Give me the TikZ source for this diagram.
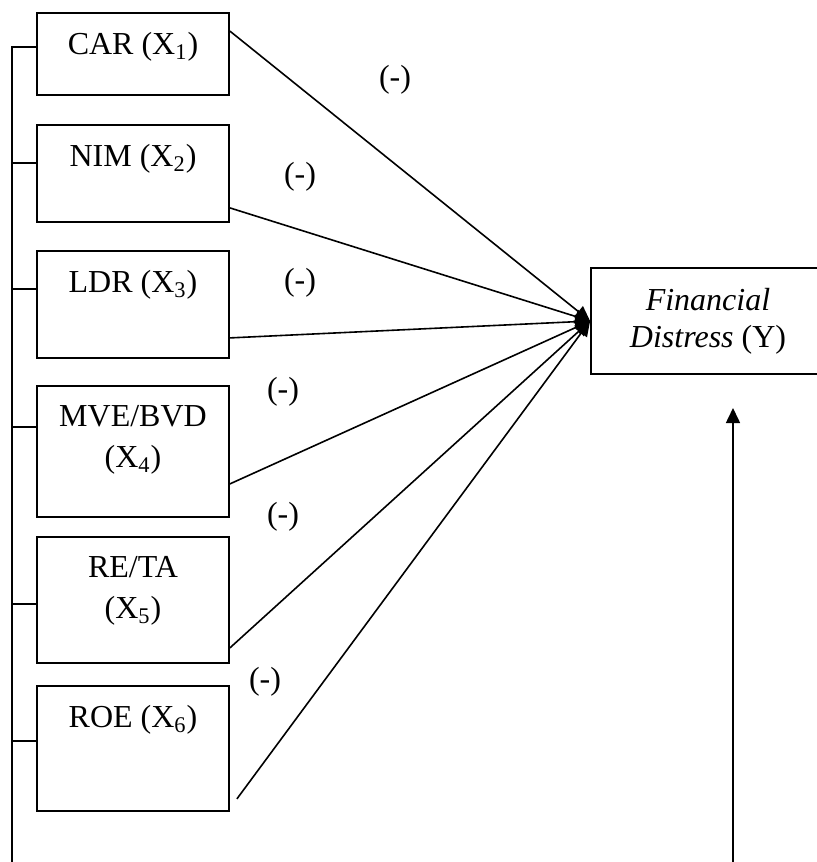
\documentclass[tikz,border=0pt]{standalone}
\usepackage{fontspec}
\setmainfont{Liberation Serif}
\usetikzlibrary{positioning,arrows.meta,calc}

\begin{document}
\begin{tikzpicture}[x=0.5pt, y=-0.5pt, font=\fontsize{16}{20.5}\selectfont,
  >={Triangle[length=7.5pt,width=7pt]},
  varbox/.style={draw, line width=0.9pt, minimum width=96pt, inner sep=0pt},
  boxtext/.style={anchor=north, inner sep=0pt, align=center, yshift=-10pt},
  conn/.style={line width=0.8pt}]
  \useasboundingbox (0,0) rectangle (817,862);
  \clip (0,0) rectangle (817,862);
  % independent variables
  \node[varbox, minimum height=41pt, label={[boxtext]north:CAR (X\textsubscript{1})}] (car) at (133,54) {};
  \node[varbox, minimum height=48.5pt, label={[boxtext]north:NIM (X\textsubscript{2})}] (nim) at (133,173.5) {};
  \node[varbox, minimum height=53.5pt, label={[boxtext]north:LDR (X\textsubscript{3})}] (ldr) at (133,304.5) {};
  \node[varbox, minimum height=65.5pt, label={[boxtext]north:MVE/BVD\\(X\textsubscript{4})}] (mve) at (133,451.5) {};
  \node[varbox, minimum height=63pt, label={[boxtext]north:RE/TA\\(X\textsubscript{5})}] (reta) at (133,600) {};
  \node[varbox, minimum height=62.5pt, label={[boxtext]north:ROE (X\textsubscript{6})}] (roe) at (133,748.5) {};
  % dependent variable
  \node[varbox, minimum width=117pt, minimum height=53pt, align=center,
        font=\fontsize{16}{18.5}\selectfont] (fd) at (708,321)
        {\textit{Financial}\\\textit{Distress} (Y)};
  % signs
  \node (s1) at (395,80) {(-)};
  \node (s2) at (300,177) {(-)};
  \node (s3) at (300,283) {(-)};
  \node (s4) at (283,392) {(-)};
  \node (s5) at (283,517) {(-)};
  \node (s6) at (265,682) {(-)};
  % paths into Y
  \draw[->, conn] ($(car.north east)+(0,19)$) -- (fd.west);
  \draw[->, conn] ($(nim.south east)+(0,-15)$) -- (fd.west);
  \draw[->, conn] ($(ldr.south east)+(0,-21)$) -- (fd.west);
  \draw[->, conn] ($(mve.south east)+(0,-34)$) -- (fd.west);
  \draw[->, conn] ($(reta.south east)+(0,-16)$) -- (fd.west);
  \draw[->, conn] ($(roe.south east)+(7,-13)$) -- (fd.west);
  % bracket on the left
  \coordinate (bustop) at (12,48);
  \coordinate (busend) at (12,862);
  \draw[conn] (bustop) -- (busend);
  \foreach \b/\d in {car/35,nim/39,ldr/39,mve/42,reta/68,roe/56}
    \draw[conn] ($(\b.north west)+(0,\d)$) -- ++(-25,0);
  % arrow from below
  \coordinate (upfoot) at (733,862);
  \coordinate (uptip) at (733,408);
  \draw[->, conn] (upfoot) -- (uptip);
\end{tikzpicture}
\end{document}
